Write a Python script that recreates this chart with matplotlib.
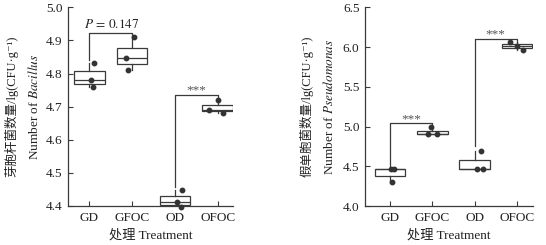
import matplotlib
matplotlib.use('Agg')
import matplotlib.pyplot as plt

plt.rcParams['font.family'] = ['Liberation Serif', 'Noto Sans CJK SC', 'DejaVu Serif']
plt.rcParams['mathtext.fontset'] = 'stix'
plt.rcParams['font.size'] = 9

groups = ['GD', 'GFOC', 'OD', 'OFOC']

# 芽胞杆菌 lg(CFU/g), 3 replicates per treatment
bacillus = [
    [4.833, 4.780, 4.759],
    [4.910, 4.846, 4.811],
    [4.447, 4.412, 4.397],
    [4.719, 4.690, 4.682],
]
# 假单胞菌 lg(CFU/g)
pseudomonas = [
    [4.465, 4.465, 4.297],
    [4.993, 4.900, 4.900],
    [4.686, 4.465, 4.465],
    [6.060, 6.014, 5.964],
]

# horizontal jitter of the replicate points (category units)
bac_jitter = [[0.12, 0.04, 0.09], [0.05, -0.15, -0.09], [0.16, 0.05, 0.15], [0.0, -0.2, 0.11]]
pse_jitter = [[0.03, 0.09, 0.05], [-0.03, -0.1, 0.1], [0.16, 0.06, 0.19], [-0.17, 0.0, 0.14]]

# brackets: (left group, right group, left leg start, top, right leg end, label)
bac_brackets = [(0, 1, 4.840, 4.921, 4.914, '$P\\,=\\,0.147$'),
                (2, 3, 4.457, 4.734, 4.720, '***')]
pse_brackets = [(0, 1, 4.498, 5.038, 5.009, '***'),
                (2, 3, 4.750, 6.102, 6.069, '***')]

line_c = '#3a3a3a'
W, H = 546, 245
fig = plt.figure(figsize=(W / 100, H / 100), dpi=100)
ax1 = fig.add_axes([68 / W, 1 - 206 / H, 165 / W, 198.7 / H])
ax2 = fig.add_axes([365 / W, 1 - 206 / H, 168 / W, 198.7 / H])


def draw(ax, data, jitter, brackets, ylim, yticks, xlim):
    ax.boxplot(data, positions=range(len(groups)), widths=0.72, patch_artist=True,
               showcaps=False, showfliers=False,
               boxprops=dict(facecolor='white', edgecolor=line_c, linewidth=0.9),
               medianprops=dict(color=line_c, linewidth=0.9),
               whiskerprops=dict(color=line_c, linewidth=0.9))
    for i, (vals, jit) in enumerate(zip(data, jitter)):
        ax.plot([i + j for j in jit], vals, 'o', ms=3.2, color='#333333',
                zorder=4, clip_on=False)
    for a, b, y0, ytop, y1, lab in brackets:
        ax.plot([a, a, b, b], [y0, ytop, ytop, y1], color=line_c, lw=0.9, zorder=3)
        if lab == '***':
            ax.annotate(lab, ((a + b) / 2, ytop), xytext=(0, -1), textcoords='offset points',
                        ha='center', va='bottom', fontsize=9.5, color='#555555')
        else:
            ax.annotate(lab, ((a + b) / 2, ytop), xytext=(1, 1.5), textcoords='offset points',
                        ha='center', va='bottom', fontsize=9.5, color='#222222')
    ax.set_xlim(*xlim)
    ax.set_ylim(*ylim)
    ax.set_yticks(yticks)
    ax.set_xticks(range(len(groups)))
    ax.set_xticklabels(groups)
    ax.spines['top'].set_visible(False)
    ax.spines['right'].set_visible(False)
    for s in ['left', 'bottom']:
        ax.spines[s].set_color(line_c)
        ax.spines[s].set_linewidth(0.9)
    ax.tick_params(direction='in', length=3.5, width=0.8, color=line_c,
                   labelcolor='#222222', labelsize=9.5, pad=4)
    ax.set_xlabel('处理 Treatment', fontsize=9.5, color='#222222', labelpad=4)


draw(ax1, bacillus, bac_jitter, bac_brackets, (4.4, 5.0),
     [4.4, 4.5, 4.6, 4.7, 4.8, 4.9, 5.0], (-0.49, 3.35))
ax1.set_yticklabels(['4.4', '4.5', '4.6', '4.7', '4.8', '4.9', '5.0'])
draw(ax2, pseudomonas, pse_jitter, pse_brackets, (4.0, 6.5),
     [4.0, 4.5, 5.0, 5.5, 6.0, 6.5], (-0.59, 3.38))
ax2.set_yticklabels(['4.0', '4.5', '5.0', '5.5', '6.0', '6.5'])

# two-line y labels, both centred on the axes height
ymid = 1 - 106.5 / H
fig.text(11.5 / W, ymid, '芽胞杆菌数量/lg(CFU·g⁻¹)', rotation=90,
         ha='center', va='center', fontsize=9, color='#222222')
fig.text(33.5 / W, ymid, 'Number of $\\mathit{Bacillus}$', rotation=90,
         ha='center', va='center', fontsize=9.5, color='#222222')
fig.text(307 / W, ymid, '假单胞菌数量/lg(CFU·g⁻¹)', rotation=90,
         ha='center', va='center', fontsize=9, color='#222222')
fig.text(329 / W, ymid, 'Number of $\\mathit{Pseudomonas}$', rotation=90,
         ha='center', va='center', fontsize=9.5, color='#222222')

fig.savefig('out.png', dpi=100)
